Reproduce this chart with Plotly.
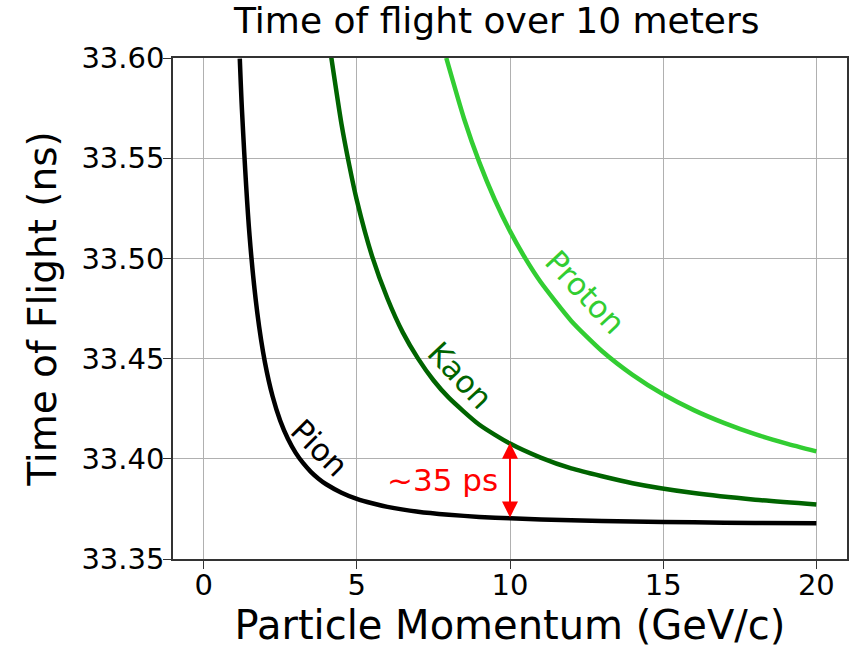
import plotly.graph_objects as go

# Momentum (GeV/c) and time of flight (ns)
pion_p = [1.18, 1.25, 1.5, 1.75, 2.0, 2.25, 2.5, 2.75, 3.0, 3.25, 3.5, 3.75, 4.0, 4.5, 5.0,
          5.5, 6.0, 7.0, 8.0, 9.0, 10.0, 12.0, 14.0, 16.0, 18.0, 20.0]
pion_t = [33.5997, 33.5744, 33.5112, 33.4730, 33.4482, 33.4312, 33.4190, 33.4100, 33.4031,
          33.3978, 33.3935, 33.3901, 33.3873, 33.3831, 33.3800, 33.3778, 33.3760, 33.3736,
          33.3721, 33.3710, 33.3703, 33.3693, 33.3687, 33.3683, 33.3680, 33.3678]

kaon_p = [4.15, 4.5, 4.75, 5.0, 5.5, 6.0, 6.5, 7.0, 7.5, 8.0, 9.0, 10.0, 11.0, 12.0, 14.0,
          16.0, 18.0, 20.0]
kaon_t = [33.602, 33.567, 33.5468, 33.529, 33.501, 33.480, 33.4631, 33.450, 33.4392, 33.4305,
          33.417, 33.4076, 33.4006, 33.3952, 33.3878, 33.3829, 33.3796, 33.3772]

proton_p = [7.92, 8.5, 9.0, 9.5, 10.0, 10.5, 11.0, 12.0, 13.0, 14.0, 15.0, 16.0, 17.0, 18.0,
            19.0, 20.0]
proton_t = [33.600, 33.5697, 33.5479, 33.5294, 33.5136, 33.500, 33.4882, 33.4688, 33.4538,
            33.4419, 33.4322, 33.4243, 33.4178, 33.4123, 33.4077, 33.4037]

x_ticks = [0, 5, 10, 15, 20]
y_ticks = [33.35, 33.40, 33.45, 33.50, 33.55, 33.60]
y_tick_labels = ["33.35", "33.40", "33.45", "33.50", "33.55", "33.60"]

arrow_x = 10
arrow_bottom = 33.370
arrow_top = 33.408

FONT = "DejaVu Sans"

fig = go.Figure()
fig.add_trace(go.Scatter(x=pion_p, y=pion_t, mode="lines", name="Pion",
                         line=dict(color="black", width=4.5, shape="spline", smoothing=0.6)))
fig.add_trace(go.Scatter(x=kaon_p, y=kaon_t, mode="lines", name="Kaon",
                         line=dict(color="#006400", width=4.5, shape="spline", smoothing=0.6)))
fig.add_trace(go.Scatter(x=proton_p, y=proton_t, mode="lines", name="Proton",
                         line=dict(color="#32CD32", width=4.5, shape="spline", smoothing=0.6)))

labels = [
    ("Pion", 3.79, 33.4055, 45, "black"),
    ("Kaon", 8.37, 33.442, 47, "#006400"),
    ("Proton", 12.45, 33.483, 47, "#32CD32"),
]
for txt, x, y, ang, col in labels:
    fig.add_annotation(x=x, y=y, text=txt, showarrow=False, textangle=ang,
                       font=dict(family=FONT, size=31, color=col))

fig.add_annotation(x=7.81, y=33.3895, text="~35 ps", showarrow=False,
                   font=dict(family=FONT, size=31, color="red"))

# double-headed arrow
fig.add_annotation(x=arrow_x, y=arrow_top, ax=arrow_x, ay=arrow_bottom,
                   xref="x", yref="y", axref="x", ayref="y", text="",
                   showarrow=True, arrowhead=2, startarrowhead=2, arrowside="end+start",
                   arrowsize=1.6, startarrowsize=1.6, arrowwidth=2, arrowcolor="red")

fig.update_layout(
    width=858, height=648,
    margin=dict(l=173, r=11, t=58, b=89),
    paper_bgcolor="white", plot_bgcolor="white",
    showlegend=False,
    title=dict(text="Time of flight over 10 meters", x=0.579, xanchor="center",
               xref="container", yref="container", y=0.968, yanchor="middle",
               font=dict(family=FONT, size=36, color="black")),
    font=dict(family=FONT, color="black"),
)
fig.update_xaxes(range=[-1, 21], tickvals=x_ticks, ticks="outside", ticklen=8, tickwidth=1.2,
                 tickcolor="#333", showgrid=True, gridcolor="#b0b0b0", gridwidth=1,
                 showline=True, linecolor="#333", linewidth=1.5, mirror=True, zeroline=False,
                 automargin=False, ticklabelstandoff=-9,
                 tickfont=dict(family=FONT, size=29, color="black"),
                 title=dict(text="Particle Momentum (GeV/c)", standoff=0,
                            font=dict(family=FONT, size=40, color="black")))
fig.update_yaxes(range=[33.35, 33.60], tickvals=y_ticks, ticktext=y_tick_labels, ticks="outside",
                 ticklen=8, tickwidth=1.2, tickcolor="#333", showgrid=True, gridcolor="#b0b0b0",
                 gridwidth=1, showline=True, linecolor="#333", linewidth=1.5, mirror=True,
                 zeroline=False, automargin=False, ticklabelstandoff=-7,
                 tickfont=dict(family=FONT, size=29, color="black"),
                 title=dict(text="Time of Flight (ns)", standoff=13,
                            font=dict(family=FONT, size=39, color="black")))

fig.write_html("out.html", config={"displayModeBar": False},
               post_script="document.body.style.margin='0';document.body.style.padding='0';")
